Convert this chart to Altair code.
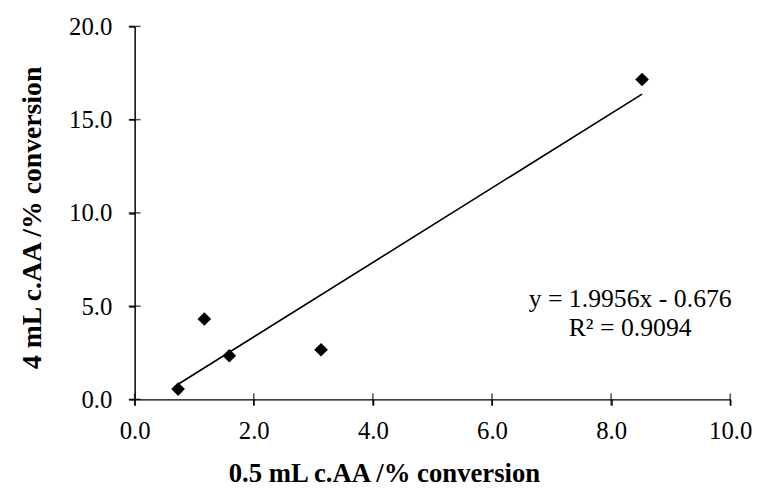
import altair as alt
import pandas as pd

x_vals = [0.73, 1.17, 1.59, 3.13, 8.52]
y_vals = [0.55, 4.31, 2.34, 2.66, 17.15]

x_ticks = [0, 2, 4, 6, 8, 10]
y_ticks = [0, 5, 10, 15, 20]

eq_lines = ["y = 1.9956x - 0.676", "R² = 0.9094"]
eq_x = [8.32, 8.32]
eq_y = [5.40, 3.80]

df = pd.DataFrame({"x": x_vals, "y": y_vals})
xt = pd.DataFrame({"v": x_ticks, "z": [0] * len(x_ticks)})
yt = pd.DataFrame({"v": y_ticks, "z": [0] * len(y_ticks)})
eq = pd.DataFrame({"t": eq_lines, "x": eq_x, "y": eq_y})

FONT = "Liberation Serif"

xs = alt.Scale(domain=[0, 10], nice=False, zero=False)
ys = alt.Scale(domain=[0, 20], nice=False, zero=False)

x_axis = alt.Axis(
    title="0.5 mL c.AA /% conversion", values=x_ticks, format=".1f",
    grid=False, ticks=True, tickSize=6, labelPadding=14, titlePadding=17,
    titleX=252, labelFlush=False,
    domainColor="black", tickColor="black", domainWidth=1.5, tickWidth=1.5,
    labelFont=FONT, labelFontSize=25, labelColor="black",
    titleFont=FONT, titleFontSize=27, titleFontWeight="bold", titleColor="black",
)
y_axis = alt.Axis(
    title="4 mL c.AA /% conversion", values=y_ticks, format=".1f",
    grid=False, ticks=True, tickSize=6, labelPadding=17, titlePadding=22,
    titleY=193, labelFlush=False,
    domainColor="black", tickColor="black", domainWidth=1.5, tickWidth=1.5,
    labelFont=FONT, labelFontSize=25, labelColor="black",
    titleFont=FONT, titleFontSize=28, titleFontWeight="bold", titleColor="black",
)

base = alt.Chart(df)

points = base.mark_point(shape="diamond", filled=True, color="black", size=190, opacity=1).encode(
    x=alt.X("x:Q", scale=xs, axis=x_axis),
    y=alt.Y("y:Q", scale=ys, axis=y_axis),
)

trend = base.transform_regression("x", "y").mark_line(color="black", strokeWidth=1.6).encode(
    x=alt.X("x:Q", scale=xs),
    y=alt.Y("y:Q", scale=ys),
)

xtick_marks = alt.Chart(xt).mark_tick(orient="vertical", color="black", size=12, thickness=1.5).encode(
    x=alt.X("v:Q", scale=xs), y=alt.Y("z:Q", scale=ys)
)
ytick_marks = alt.Chart(yt).mark_tick(orient="horizontal", color="black", size=12, thickness=1.5).encode(
    x=alt.X("z:Q", scale=xs), y=alt.Y("v:Q", scale=ys)
)

text = alt.Chart(eq).mark_text(font=FONT, fontSize=26, color="black", align="center", baseline="middle").encode(
    x=alt.X("x:Q", scale=xs), y=alt.Y("y:Q", scale=ys), text="t:N"
)

chart = alt.layer(trend, points, xtick_marks, ytick_marks, text).properties(
    width=602, height=377, padding={"left": 11, "top": 4, "right": 0, "bottom": 0}
).configure_view(stroke=None)

chart.save("out.html", embed_options={"renderer": "svg", "actions": False})
